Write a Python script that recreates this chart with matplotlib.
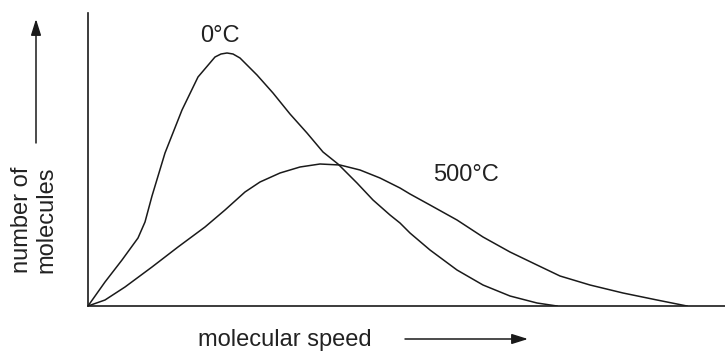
import matplotlib
matplotlib.use("Agg")
import matplotlib.pyplot as plt

plt.rcParams['font.family'] = ['Liberation Sans', 'DejaVu Sans']

# curve shapes (x: speed, y: number of molecules, arbitrary units)
speed_0c = [0, 17, 34, 50, 57, 64, 77, 94, 110, 127, 133, 139, 145, 152, 169, 185,
            202, 219, 235, 250, 269, 285, 302, 312, 322, 342, 369, 395, 422, 449, 469]
count_0c = [0, 24, 46, 68, 84, 110, 153, 196, 229, 249, 252, 253, 252, 248, 231, 213,
            192, 173, 154, 142, 123, 106, 91, 83, 73, 56, 36, 21, 10, 3, 0]

speed_500c = [0, 17, 37, 64, 90, 117, 137, 157, 172, 192, 212, 232, 252, 272, 292, 302,
              312, 322, 342, 369, 395, 422, 449, 472, 502, 535, 569, 599]
count_500c = [0, 6, 19, 39, 59, 79, 96, 114, 124, 133, 139, 142, 141, 136, 128, 123,
              118, 112, 101, 86, 69, 54, 41, 30, 21, 13, 6, 0]

fig = plt.figure(figsize=(7.25, 3.52), dpi=100)
ax = fig.add_axes([88 / 725, 46 / 352, 637 / 725, 293 / 352])

ax.plot(speed_0c, count_0c, color='#1a1a1a', lw=1.1, solid_joinstyle='round')
ax.plot(speed_500c, count_500c, color='#1a1a1a', lw=1.1, solid_joinstyle='round')

ax.set_xlim(0, 637)
ax.set_ylim(0, 293)
for side in ['top', 'right']:
    ax.spines[side].set_visible(False)
for side in ['left', 'bottom']:
    ax.spines[side].set_linewidth(1.2)
    ax.spines[side].set_color('#1a1a1a')
ax.set_xticks([])
ax.set_yticks([])

fs = 17
fig.text(200 / 725, 310 / 352, '0°C', fontsize=fs, color='#222222', ha='left', va='baseline')
fig.text(433 / 725, 171 / 352, '500°C', fontsize=fs, color='#222222', ha='left', va='baseline')
fig.text(198 / 725, 6 / 352, 'molecular speed', fontsize=fs, color='#222222', ha='left', va='baseline')
fig.text(34 / 725, 132 / 352, 'number of\nmolecules', fontsize=fs, color='#222222',
         rotation=90, ha='center', va='center', multialignment='center', linespacing=1.15)

arrow = dict(arrowstyle='-|>,head_length=0.7,head_width=0.22', color='#1a1a1a', lw=1.1,
             mutation_scale=14, shrinkA=0, shrinkB=0)
ax.annotate('', xy=(36, 333), xytext=(36, 209), xycoords='figure pixels',
            textcoords='figure pixels', arrowprops=arrow)
ax.annotate('', xy=(528, 13), xytext=(405, 13), xycoords='figure pixels',
            textcoords='figure pixels', arrowprops=arrow)

fig.savefig('out.png', dpi=100)
